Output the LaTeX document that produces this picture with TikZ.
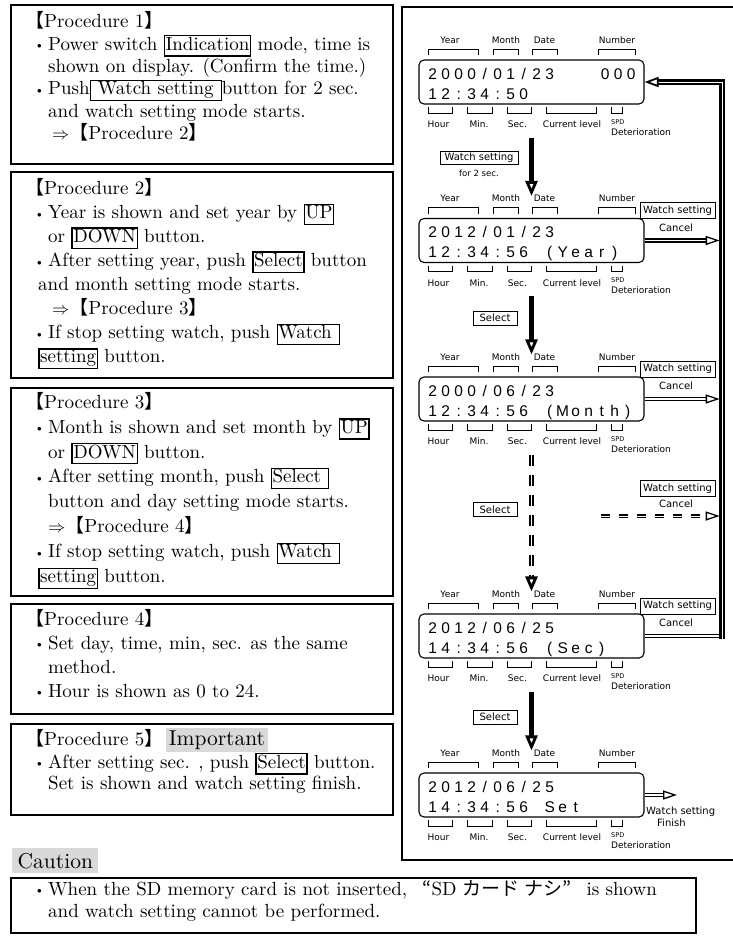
\documentclass[tikz,border=0pt]{standalone}
\usepackage{fontspec}
\setmainfont{lmroman10-regular.otf}
\newfontfamily\jpfont{Noto Sans CJK JP}
\newfontfamily\panelfont{DejaVu Sans}
\newfontfamily\lcdfont{Liberation Sans}
\usepackage{tikz}
\usetikzlibrary{
  arrows.meta,
  positioning
}

\newcommand\jp[1]{{\jpfont #1}}
\newcommand\bul{\hspace*{12pt}\makebox[11pt][l]{\raisebox{1.6pt}{\fontsize{9pt}{9pt}\selectfont$\bullet$}}}
\newcommand\ind{\hspace*{23pt}}
\newcommand\nind{\hspace*{13pt}}
\newcommand\tline{\rule{0pt}{18pt}}
\newcommand\kb[1]{{\setlength\fboxsep{0.6pt}\setlength\fboxrule{1.3pt}\fbox{\rule[-4.5pt]{0pt}{16pt}#1}}}
\newcommand\hl[1]{{\fontsize{21.5pt}{22pt}\selectfont\setlength\fboxsep{2.5pt}\colorbox{black!15}{#1}}}
% one character per cell on the LCD
\newcommand\lcdchars[1]{\lcdnext#1\relax}
\newcommand\lcdnext[1]{\ifx\relax#1\else\makebox[13pt]{#1}\expandafter\lcdnext\fi}

\tikzset{
  procbox/.style={draw, line width=2pt, anchor=north west, minimum width=382pt, inner sep=0pt},
  proctext/.style={anchor=north west, align=left, inner sep=0pt},
  panelframe/.style={draw, line width=2pt, anchor=north west, minimum width=334pt, minimum height=853pt, inner sep=0pt},
  lcdbox/.style={draw, line width=1.1pt, rounded corners=5pt, minimum width=225pt, minimum height=44pt, inner sep=0pt},
  lcdtext/.style={anchor=base west, inner sep=0pt, font=\lcdfont\fontsize{15.5pt}{16pt}\selectfont},
  brk/.style={line width=0.8pt},
  lbl/.style={anchor=base, inner sep=0pt, font=\panelfont\fontsize{9pt}{10pt}\selectfont},
  biglbl/.style={lbl, font=\panelfont\fontsize{10pt}{11pt}\selectfont},
  btn/.style={draw, line width=0.8pt, inner sep=1pt, font=\panelfont\fontsize{10pt}{11pt}\selectfont},
  flow/.style={line width=5pt, -{Triangle[open, length=15pt, width=12pt, line width=2.8pt]}},
  skipflow/.style={double, line width=2pt, double distance=1.2pt, dash pattern=on 11pt off 9pt,
    -{Triangle[open, length=15pt, width=12pt, line width=2.8pt]}},
  cancel/.style={double, line width=1.3pt, double distance=1.5pt, shorten >=2.3pt,
    -{Triangle[open, length=14pt, width=9pt, line width=1.3pt]}},
  skipcancel/.style={cancel, line width=1.8pt, double distance=1pt, dash pattern=on 9pt off 9pt},
  track/.style={double, line width=2.2pt, double distance=0.7pt},
  hilite/.style={fill=black!15, inner xsep=5.5pt, inner ysep=0pt, minimum height=25pt, anchor=north west,
    font=\fontsize{21.5pt}{22pt}\selectfont}
}

% one LCD display with its brackets and labels
\newcommand\lcdpanel[4]{%
  \node[lcdbox] (#1) at (531.5,#2+22) {};
  \node[lcdtext] (#1top) at (426,#2+19) {\lcdchars{#3}};
  \node[lcdtext] (#1bot) at (426,#2+39) {\lcdchars{#4}};
  \foreach \xa/\xb in {428/478,493/518,532/557,598/635}
    \draw[brk] (\xa,#2-5) |- (\xb,#2-11) -- (\xb,#2-5);
  \foreach \xa/\xb in {428/452,467/492,507/531,546/596,611/622}
    \draw[brk] (\xa,#2+47) |- (\xb,#2+53) -- (\xb,#2+47);
  \node[lbl] (#1yr) at (450,#2-17) {Year};
  \node[lbl] (#1mo) at (506,#2-17) {Month};
  \node[lbl] (#1dt) at (544.5,#2-17) {Date};
  \node[lbl] (#1no) at (617,#2-17) {Number};
  \node[lbl] (#1hr) at (438.5,#2+67.5) {Hour};
  \node[lbl] (#1mi) at (479,#2+67.5) {Min.};
  \node[lbl] (#1se) at (517.5,#2+67.5) {Sec.};
  \node[lbl] (#1cl) at (572,#2+67.5) {Current level};
  \node[lbl, anchor=base west, font=\panelfont\fontsize{6.5pt}{7pt}\selectfont] (#1spd) at (611,#2+64) {SPD};
  \node[lbl, anchor=base west] (#1det) at (611,#2+75) {Deterioration};
}

\begin{document}
\begin{tikzpicture}[x=1pt, y=-1pt]
\useasboundingbox (0,0) rectangle (732,940);

% procedures
\node[procbox, minimum height=159pt] (proc1) at (10,4) {};
\node[proctext, font=\fontsize{19pt}{22.4pt}\selectfont] (proc1txt) at (25,9.5) {%
  \tline\jp{【}Procedure 1\jp{】}\\
  \bul Power switch \kb{Indication} mode, time is\\
  \ind shown on display. (Confirm the time.)\\
  \bul Push\kb{ Watch setting }button for 2 sec.\\
  \ind and watch setting mode starts.\\
  \hspace*{27pt}$\Rightarrow$\jp{【}Procedure 2\jp{】}};

\node[procbox, minimum height=206pt] (proc2) at (10,171) {};
\node[proctext, font=\fontsize{19pt}{24pt}\selectfont] (proc2txt) at (25,176.5) {%
  \tline\jp{【}Procedure 2\jp{】}\\
  \bul Year is shown and set year by \kb{UP}\\
  \ind or \kb{DOWN} button.\\
  \bul After setting year, push \kb{Select} button\\
  \nind and month setting mode starts.\\
  \hspace*{27pt}$\Rightarrow$\jp{【}Procedure 3\jp{】}\\
  \bul If stop setting watch, push \kb{Watch }\\
  \nind\kb{setting} button.};

\node[procbox, minimum height=208pt] (proc3) at (10,387) {};
\node[proctext, font=\fontsize{19pt}{24.9pt}\selectfont] (proc3txt) at (25,390) {%
  \tline\jp{【}Procedure 3\jp{】}\\
  \bul Month is shown and set month by \kb{UP}\\
  \ind or \kb{DOWN} button.\\
  \bul After setting month, push \kb{Select }\\
  \ind button and day setting mode starts.\\
  \ind$\Rightarrow$\jp{【}Procedure 4\jp{】}\\
  \bul If stop setting watch, push \kb{Watch }\\
  \nind\kb{setting} button.};

\node[procbox, minimum height=110pt] (proc4) at (10,603) {};
\node[proctext, font=\fontsize{19pt}{24pt}\selectfont] (proc4txt) at (25,607) {%
  \tline\jp{【}Procedure 4\jp{】}\\
  \bul Set day, time, min, sec. as the same\\
  \ind method.\\
  \bul Hour is shown as 0 to 24.};

\node[procbox, minimum height=91pt] (proc5) at (10,723) {};
\node[proctext, font=\fontsize{19pt}{21.5pt}\selectfont] (proc5txt) at (25,727) {%
  \tline\jp{【}Procedure 5\jp{】}\hspace{3pt}\hl{Important}\\
  \bul After setting sec. , push \kb{Select} button.\\
  \ind Set is shown and watch setting finish.};

% caution
\node[hilite] (cautionlbl) at (12,848) {Caution};
\node[procbox, minimum width=685pt, minimum height=55pt] (cautionbox) at (10,877) {};
\node[proctext, font=\fontsize{19pt}{22pt}\selectfont] (cautiontxt) at (25,877) {%
  \tline\bul When the SD memory card is not inserted,\hspace{9pt} \jp{“}SD \jp{カード ナシ”}\hspace{9pt} is shown\\
  \ind and watch setting cannot be performed.};

% display panel
\node[panelframe] (panel) at (401,6) {};
\lcdpanel{d1}{60}{2000/01/23}{12:34:50}
\node[lcdtext, anchor=base east] (d1num) at (638,79) {\lcdchars{000}};
\lcdpanel{d2}{218.5}{2012/01/23}{12:34:56~(Year)}
\lcdpanel{d3}{377}{2000/06/23}{12:34:56~(Month)}
\lcdpanel{d4}{614}{2012/06/25}{14:34:56~(Sec)}
\lcdpanel{d5}{773}{2012/06/25}{14:34:56~Set}

% buttons
\node[btn, minimum width=78pt, minimum height=13pt] (wsbtn) at (479,158) {Watch setting};
\node[lbl, anchor=center, font=\panelfont\fontsize{8.5pt}{9pt}\selectfont] (wsfor) at (479,173) {for 2 sec.};
\node[btn, minimum width=44pt, minimum height=14pt] (sel2) at (495,318) {Select};
\node[btn, minimum width=44pt, minimum height=14pt] (sel3) at (495,509.5) {Select};
\node[btn, minimum width=44pt, minimum height=14pt] (sel4) at (495,717) {Select};

\node[btn, minimum width=75pt, minimum height=16pt] (wsc2) at (677.5,210.5) {Watch setting};
\node[biglbl] (cn2) at (676,231) {Cancel};
\node[btn, minimum width=75pt, minimum height=16pt] (wsc3) at (677.5,369) {Watch setting};
\node[biglbl] (cn3) at (676,389.5) {Cancel};
\node[btn, minimum width=75pt, minimum height=16pt] (wscs) at (677.5,488.5) {Watch setting};
\node[biglbl] (cns) at (676,507.5) {Cancel};
\node[btn, minimum width=75pt, minimum height=16pt] (wsc4) at (677.5,606) {Watch setting};
\node[biglbl] (cn4) at (676,626.5) {Cancel};

% flow down
\draw[flow] ([yshift=-33pt]d1.south) -- ([yshift=22pt]d2.north);
\draw[flow] ([yshift=-33pt]d2.south) -- ([yshift=22pt]d3.north);
\draw[skipflow] ([yshift=-33pt]d3.south) -- ([yshift=22pt]d4.north);
\draw[flow] ([yshift=-33pt]d4.south) -- ([yshift=22pt]d5.north);

% cancel back to the first display
\coordinate (rtrack) at (722,0);
\coordinate (skipstart) at (601,516);
\draw[cancel] (d2.east) -- (d2.east -| rtrack);
\draw[cancel] (d3.east) -- (d3.east -| rtrack);
\draw[skipcancel] (skipstart) -- (skipstart -| rtrack);
\draw[cancel, -, shorten >=0pt] (d4.east) -- (d4.east -| rtrack);
\draw[track, -{Triangle[open, length=14pt, width=10pt, line width=1.8pt]}]
  ([yshift=-2.5pt]rtrack |- d4.east) -- (rtrack |- d1.east) -- (d1.east);

% finish
\coordinate (finishend) at (677,795);
\draw[cancel, shorten >=0pt] (d5.east) -- (finishend);
\node[biglbl, anchor=base west] (finishlbl) at (646,814) {Watch setting};
\node[biglbl, anchor=base west] (finishlbl2) at (657,826) {Finish};
\end{tikzpicture}
\end{document}
